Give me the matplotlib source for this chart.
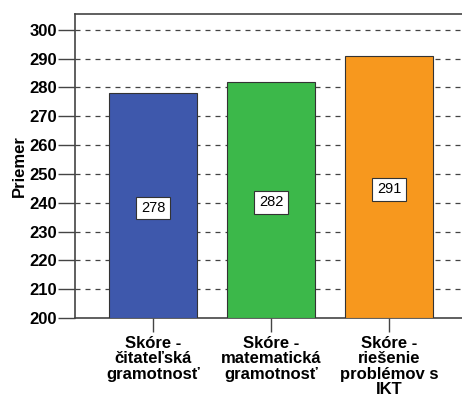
import matplotlib
matplotlib.use('Agg')
import matplotlib.pyplot as plt
import numpy as np

categories = ['Skóre -\nčitateľská\ngramotnosť',
              'Skóre -\nmatematická\ngramotnosť',
              'Skóre -\nriešenie\nproblémov s\nIKT']
means = [278, 282, 291]
colors = ['#3e58ac', '#3cb84a', '#f7981e']
yticks = np.arange(200, 301, 10)

plt.rcParams['font.family'] = ['Liberation Sans', 'DejaVu Sans']

fig = plt.figure(figsize=(4.62, 3.98), dpi=100)
ax = fig.add_axes([75/462, 80/398, 387/462, 304/398])

x = np.arange(len(categories))
bars = ax.bar(x, [m - 200 for m in means], 0.745, bottom=200, color=colors,
              edgecolor='#333333', linewidth=0.8, zorder=3)

# value boxes in the middle of each bar
for xi, m in zip(x, means):
    ax.text(xi, (200 + m) / 2 - 0.8, '{}'.format(m), ha='center', va='center',
            fontsize=10.5, zorder=4,
            bbox=dict(boxstyle='square,pad=0.3', fc='white', ec='#333333', lw=0.8))

for t in yticks[1:]:
    ax.axhline(t, color='#444444', lw=0.9, ls=(0, (4, 4)), zorder=1)

ax.set_ylim(200, 305.5)
ax.set_xlim(-0.661, 2.619)
ax.set_yticks(yticks)
ax.set_yticklabels([str(t) for t in yticks], fontsize=12, fontweight='bold')
ax.set_xticks(x)
ax.set_xticklabels(categories, fontsize=12, fontweight='bold', linespacing=1.03)
ax.tick_params(axis='y', length=12, width=1, color='#444444', pad=1)
ax.tick_params(axis='x', length=10, width=1, color='#444444', pad=3)
ax.set_ylabel('Priemer', fontsize=12, fontweight='bold')
ax.yaxis.set_label_coords(-48/387, 0.5)

for side in ['left', 'bottom', 'top']:
    ax.spines[side].set_color('#444444')
    ax.spines[side].set_linewidth(1.2)
ax.spines['right'].set_visible(False)

fig.savefig('out.png', dpi=100)
